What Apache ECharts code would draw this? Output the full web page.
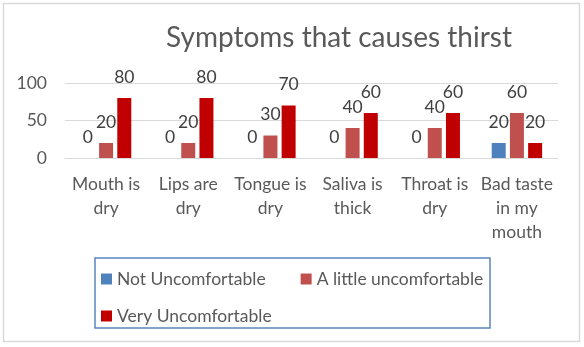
<!DOCTYPE html>
<html>
<head>
<meta charset="utf-8">
<script src="https://cdn.jsdelivr.net/npm/echarts@6/dist/echarts.min.js"></script>
<style>html,body{margin:0;padding:0;background:#fff;}#c{width:584px;height:347px;}</style>
</head>
<body>
<div id="c"></div>
<script>
const categories = ['Mouth is\ndry', 'Lips are\ndry', 'Tongue is\ndry', 'Saliva is\nthick', 'Throat is\ndry', 'Bad taste\nin my\nmouth'];
const notUncomfortable = [0, 0, 0, 0, 0, 20];
const littleUncomfortable = [20, 20, 30, 40, 40, 60];
const veryUncomfortable = [80, 80, 70, 60, 60, 20];
const seriesNames = ['Not Uncomfortable', 'A little uncomfortable', 'Very Uncomfortable'];
const colors = ['#4F81BD', '#C0504D', '#C00000'];
const FONT = 'Lato, "Liberation Sans", sans-serif';

const chart = echarts.init(document.getElementById('c'), null, {renderer: 'canvas'});
const label = {show: true, position: 'top', distance: 12, fontSize: 17.5, color: '#404040', fontFamily: FONT};
const mk = (name, data, color) => ({
  name, type: 'bar', data, barWidth: 14, barGap: '30%',
  itemStyle: {color}, label
});
chart.setOption({
  animation: false,
  color: colors,
  title: {
    text: 'Symptoms that causes thirst',
    left: 334, top: 19, textAlign: 'center',
    textStyle: {fontFamily: FONT, fontSize: 28, fontWeight: 'normal', color: '#595959'}
  },
  grid: {left: 65, right: 26, top: 83, bottom: 189, containLabel: false},
  xAxis: {
    type: 'category', data: categories,
    axisLine: {lineStyle: {color: '#D9D9D9', width: 1}},
    axisTick: {show: false},
    axisLabel: {fontFamily: FONT, fontSize: 17.5, color: '#595959', lineHeight: 24, margin: 14, interval: 0}
  },
  yAxis: {
    type: 'value', min: 0, max: 100, interval: 50,
    axisLine: {show: false}, axisTick: {show: false},
    splitLine: {lineStyle: {color: '#D9D9D9', width: 1}},
    axisLabel: {fontFamily: FONT, fontSize: 17.5, color: '#595959', margin: 18}
  },
  legend: {
    left: 101, top: 270, width: 450, padding: 0,
    itemWidth: 11, itemHeight: 11, itemGap: 19,
    icon: 'rect',
    textStyle: {fontFamily: FONT, fontSize: 17.5, color: '#595959', lineHeight: 14, padding: [0, 16, 0, 0]},
    data: seriesNames
  },
  graphic: [
    {type: 'rect', shape: {x: 3.5, y: 3.5, width: 576, height: 338}, style: {fill: 'none', stroke: '#D9D9D9', lineWidth: 1.5}, silent: true},
    {type: 'rect', shape: {x: 95, y: 258, width: 395, height: 70}, style: {fill: 'none', stroke: '#5B85C0', lineWidth: 1.5}, silent: true}
  ],
  series: [
    mk(seriesNames[0], notUncomfortable, colors[0]),
    mk(seriesNames[1], littleUncomfortable, colors[1]),
    mk(seriesNames[2], veryUncomfortable, colors[2])
  ]
});
</script>
</body>
</html>
